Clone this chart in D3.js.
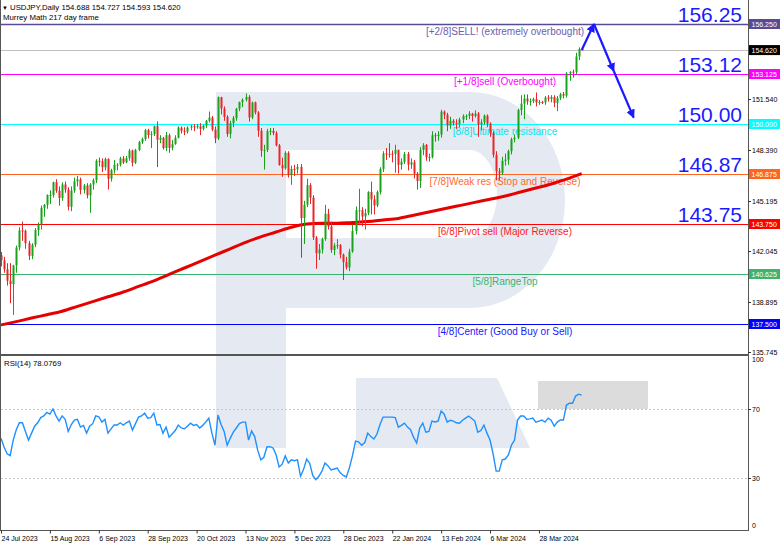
<!DOCTYPE html>
<html><head><meta charset="utf-8">
<script src="https://cdn.jsdelivr.net/npm/d3@7/dist/d3.min.js"></script>
<style>
body{margin:0;background:#fff;}
svg{display:block;font-family:"Liberation Sans",Arial,sans-serif;}
</style></head><body>
<svg id="c" width="782" height="547"></svg>
<script>
// ---------- DATA ----------
const opens=[141.80,141.48,140.92,140.20,139.99,141.16,142.28,143.35,143.33,142.55,
141.76,142.46,143.37,143.73,144.76,144.95,145.56,145.56,146.36,145.83,
145.38,146.22,145.90,144.83,145.84,146.42,146.53,145.88,146.16,145.54,
146.22,146.49,147.70,147.67,147.29,147.82,146.58,147.12,147.45,147.46,
147.85,147.60,147.86,148.34,147.58,148.38,148.87,149.06,149.62,149.31,
149.37,149.86,149.02,149.13,148.50,149.30,148.51,148.74,149.14,149.78,
149.56,149.52,149.78,149.85,149.80,149.86,149.70,149.90,150.20,150.40,
149.65,149.10,151.67,150.97,150.44,149.38,150.05,150.37,150.96,151.37,
151.51,151.69,150.41,151.35,150.72,149.58,148.34,148.38,149.55,149.57,
149.43,148.66,147.43,147.23,148.20,146.80,147.19,147.17,147.32,144.12,
144.95,146.18,145.40,142.90,141.92,142.16,142.81,144.39,143.59,142.13,
142.40,142.43,141.84,141.37,141.04,142.02,143.31,144.61,144.61,144.22,
144.44,145.75,145.29,144.91,145.75,147.19,148.16,148.14,148.13,148.12,
148.38,147.45,147.64,148.12,147.46,147.61,146.90,146.44,148.38,148.68,
147.92,147.93,149.30,149.25,149.34,150.77,150.58,149.90,150.20,150.05,
149.99,150.28,150.50,150.51,150.65,150.50,150.65,149.97,150.10,150.52,
150.02,149.42,148.07,147.05,146.95,147.70,147.77,148.30,149.04,149.14,
150.87,151.27,151.59,151.41,151.43,151.55,151.34,151.37,151.35,151.65,
151.57,151.68,151.32,151.62,151.86,151.77,153.16,153.27,153.26,154.22,
154.688];
const highs=[142.00,141.70,141.30,141.30,141.20,142.40,143.55,143.90,143.40,142.70,
142.55,143.50,143.85,144.90,145.00,145.60,145.85,146.40,146.55,146.10,
146.35,146.40,146.05,146.10,146.65,146.75,146.65,146.25,146.30,146.30,
146.60,147.80,147.90,147.85,147.90,147.85,147.20,147.75,147.55,147.95,
148.00,148.00,148.45,148.40,148.45,148.95,149.15,149.70,149.70,149.55,
149.90,150.16,149.30,149.20,149.50,149.40,149.00,149.30,149.85,149.85,
149.80,149.85,149.95,150.00,150.00,150.05,149.95,150.25,150.78,150.50,
149.85,151.72,151.70,151.10,150.55,150.20,150.50,151.00,151.40,151.60,
151.91,151.80,151.40,151.40,150.80,149.75,148.70,149.70,149.75,149.75,
149.55,148.75,147.90,148.30,148.30,147.40,147.45,147.50,147.50,145.20,
146.58,146.30,145.55,143.00,142.50,142.90,144.95,144.70,143.90,142.55,
142.80,142.50,141.90,141.70,142.20,143.70,144.85,145.95,144.80,144.70,
145.80,146.40,145.55,145.85,147.30,148.30,148.50,148.80,148.35,148.70,
148.40,147.85,148.25,148.25,147.85,147.75,147.00,148.55,148.80,148.75,
148.15,149.55,149.45,149.55,150.89,150.85,150.70,150.45,150.30,150.30,
150.40,150.60,150.60,150.80,150.70,150.85,150.75,150.30,150.60,150.60,
150.10,149.55,148.30,147.25,147.95,148.15,148.40,149.15,149.35,150.95,
151.80,151.85,151.85,151.60,151.65,151.97,151.50,151.45,151.75,151.80,
151.80,151.80,151.75,151.95,152.00,153.24,153.30,153.40,154.45,154.79,
154.727];
const lows=[141.10,140.70,139.90,138.80,138.07,140.70,142.10,142.70,142.20,141.50,
141.55,142.30,143.00,143.40,144.20,144.70,145.00,145.40,145.70,144.90,
145.20,145.70,144.60,144.55,145.70,146.10,145.60,145.65,145.35,144.45,
145.90,146.30,147.35,147.00,147.10,145.90,146.40,146.90,147.10,147.35,
147.50,147.55,147.70,147.35,147.50,148.30,148.75,148.95,149.10,148.50,
149.25,147.31,148.80,148.40,148.30,148.20,148.35,148.70,149.10,149.40,
149.30,149.40,149.60,149.55,149.70,149.30,149.60,149.75,150.10,149.55,
148.80,149.00,150.60,150.20,149.20,149.10,149.80,150.20,150.80,151.05,
151.40,150.15,150.30,150.60,149.20,147.95,147.15,148.25,149.30,149.30,
148.60,147.40,146.70,147.15,146.65,146.20,146.75,146.90,141.64,142.50,
144.80,145.00,142.75,140.95,141.50,141.90,142.70,143.40,141.95,141.80,
142.20,141.60,140.25,140.90,140.80,141.95,143.10,143.80,143.60,143.40,
144.30,144.35,144.35,144.80,145.60,147.00,147.75,147.90,147.60,146.95,
146.90,147.15,147.50,147.10,147.20,146.60,145.90,146.00,148.05,147.70,
147.65,147.85,148.90,148.95,149.15,150.30,149.55,149.70,149.90,149.70,
149.80,150.05,150.25,150.30,150.15,150.40,149.20,149.60,149.95,149.80,
149.20,147.90,146.48,146.49,146.80,147.40,147.45,148.10,148.85,149.05,
150.55,150.30,151.20,151.15,151.30,151.10,151.20,151.25,151.20,151.40,
151.35,151.05,150.80,151.50,151.60,151.65,152.70,152.90,153.10,154.00,
154.593];
const closes=[141.48,140.92,140.20,139.99,141.16,142.28,143.35,143.33,142.55,141.76,
142.46,143.37,143.73,144.76,144.95,145.56,145.56,146.36,145.83,145.38,
146.22,145.90,144.83,145.84,146.42,146.53,145.88,146.16,145.54,146.22,
146.49,147.70,147.67,147.29,147.82,146.58,147.12,147.45,147.46,147.85,
147.60,147.86,148.34,147.58,148.38,148.87,149.06,149.62,149.31,149.37,
149.86,149.02,149.13,148.50,149.30,148.51,148.74,149.14,149.78,149.56,
149.52,149.78,149.85,149.80,149.86,149.70,149.90,150.20,150.40,149.65,
149.10,151.67,150.97,150.44,149.38,150.05,150.37,150.96,151.37,151.51,
151.69,150.41,151.35,150.72,149.58,148.34,148.38,149.55,149.57,149.43,
148.66,147.43,147.23,148.20,146.80,147.19,147.17,147.32,144.12,144.95,
146.18,145.40,142.90,141.92,142.16,142.81,144.39,143.59,142.13,142.40,
142.43,141.84,141.37,141.04,142.02,143.31,144.61,144.61,144.22,144.44,
145.75,145.29,144.91,145.75,147.19,148.16,148.14,148.13,148.12,148.38,
147.45,147.64,148.12,147.46,147.61,146.90,146.44,148.38,148.68,147.92,
147.93,149.30,149.25,149.34,150.77,150.58,149.90,150.20,150.05,149.99,
150.28,150.50,150.51,150.65,150.50,150.65,149.97,150.10,150.52,150.02,
149.42,148.07,147.05,146.95,147.70,147.77,148.30,149.04,149.14,150.87,
151.27,151.59,151.41,151.43,151.55,151.34,151.37,151.35,151.65,151.57,
151.68,151.32,151.62,151.86,151.77,153.16,153.27,153.26,154.22,154.69,
154.62];
const rsi=[53,48,44,43,52,58,62,62,57,52,
56,60,62,65,66,68,67,70,66,63,
66,64,57,61,63.6,64,59.5,60.5,56,60,
61.5,66,65.5,62.4,64,56,58.5,60.7,60.7,62,
60.7,62,63,57.8,61.5,65.3,66,67.6,64.7,65,
67.6,60.7,61,56,59.5,53.7,55.5,57.5,60.7,59,
58.5,60,61.8,60.5,61,59,60.5,62.5,64.7,56,
49,66.5,61,57,49,53,56.6,59,61.5,62.4,
62.4,52,57.2,54,46,40.5,42,48,48.2,47.4,
43.5,36.4,38,42.8,38.7,40.5,40,40.5,31,35,
41,38.5,31.5,29,31,34,38.7,37,34.7,35.2,
35.8,33,31.5,30.6,36,43,51.4,51,49,50.5,
56,54,52.6,55.5,61,65.3,65.3,65.3,65.3,65,
59.5,60.5,61.8,59.5,58,53.5,50.3,59,61.8,56.6,
57,63,62.5,63,68.8,67,62.4,63.5,63,62,
61.8,63.5,64.7,65.9,64.5,63,56.6,57.5,60.7,56,
52,44,34,34,40.5,41,43.4,49,52,63.6,
65.9,65.9,64,64.3,64.7,62.4,63,63.6,62.4,64.7,
63.5,60,62.4,63.6,63.6,72.3,73.4,73.3,77.5,78.6,
78.08];
// moving average (read every 5th bar)
const maIdx=[0,5,10,15,20,25,30,35,40,45,50,55,60,65,70,75,80,85,90,95,100,105,110,115,120,125,130,135,140,145,150,155,160,165,170,175,180,185,190];
const maVals=[137.44,137.65,137.87,138.08,138.3,138.6,138.9,139.2,139.5,139.85,140.2,140.6,141.0,141.4,141.8,142.2,142.6,142.95,143.25,143.55,143.75,143.8,143.8,143.85,143.9,144.0,144.1,144.3,144.5,144.7,144.9,145.1,145.3,145.5,145.75,146.0,146.25,146.55,146.9];
// Murrey levels
const levelPrices=[156.25,153.125,150.0,146.875,143.75,140.625,137.5];
const levelNames=["[+2/8]SELL! (extremely overbought)","[+1/8]sell (Overbought)","[8/8]Ultimate resistance","[7/8]Weak res (Stop and Reverse)","[6/8]Pivot sell (Major Reverse)","[5/8]RangeTop","[4/8]Center (Good Buy or Sell)"];
const levelColors=["#574b96","#ff00ff","#00ffff","#ff6420","#ff0000","#3cb371","#0000ff"];
const levelTextColors=["#6a60b0","#ff00ff","#00e5ee","#ff6a30","#ff1a1a","#3cb371","#1a1aff"];
const bigPrices=[156.25,153.125,150.0,146.875,143.75];
const bigLabels=["156.25","153.12","150.00","146.87","143.75"];
const priceTicks=[151.540,148.390,145.195,142.045,138.895,135.745];
const lastPrice=154.62;
const rsiTicks=[100,70,30,0];
const xTickIdx=[0,16,32,48,64,80,96,112,128,144,160,176];
const xTickLabels=["24 Jul 2023","15 Aug 2023","6 Sep 2023","28 Sep 2023","20 Oct 2023","13 Nov 2023","5 Dec 2023","28 Dec 2023","22 Jan 2024","13 Feb 2024","6 Mar 2024","28 Mar 2024"];
const arrowIdx=[190,194,200.5,207];
const arrowPrice=[154.62,156.25,153.3,150.4];

// ---------- CHART ----------
const svg=d3.select('#c');
const x=d3.scaleLinear().domain([0,244.4]).range([1,748]);
const y=d3.scaleLinear().domain([137.5,156.25]).range([324,24]);
const yR=d3.scaleLinear().domain([0,100]).range([529.75,357.25]);

// watermark logo
const wm=svg.append('g').attr('fill','#e4e9f2');
wm.append('rect').attr('x',216).attr('y',92).attr('width',70).attr('height',356);
wm.append('path').attr('fill-rule','evenodd')
  .attr('d','M216,92 H470 A95,108 0 0 1 470,308 H216 Z M286,150 H470 A27,44 0 0 1 470,238 H286 Z');
wm.append('path').attr('d','M356,378 H497 L530,448 H356 Z');
svg.append('rect').attr('x',538).attr('y',381).attr('width',110).attr('height',28).attr('fill','#dcdcdc');

// clip
svg.append('clipPath').attr('id','mc').append('rect').attr('x',1).attr('y',0).attr('width',747).attr('height',354);
const main=svg.append('g').attr('clip-path','url(#mc)');

// current price line
main.append('line').attr('x1',0).attr('x2',748).attr('y1',Math.round(y(lastPrice))+0.5).attr('y2',Math.round(y(lastPrice))+0.5)
  .attr('stroke','#c0c0c0').attr('stroke-width',1);

// level lines
levelPrices.forEach((p,i)=>{
  const yy=Math.round(y(p))+0.5;
  main.append('line').attr('x1',0).attr('x2',748).attr('y1',yy).attr('y2',yy)
    .attr('stroke',levelColors[i]).attr('stroke-width',i===0?1.5:1.2);
  main.append('text').attr('x',505).attr('y',yy+10.5).attr('text-anchor','middle')
    .attr('font-size',10).attr('fill',levelTextColors[i]).text(levelNames[i]);
});
bigPrices.forEach((p,i)=>{
  main.append('text').attr('x',742).attr('y',y(p)-2).attr('text-anchor','end')
    .attr('font-size',21).attr('fill','#1a1aff').text(bigLabels[i]);
});

// moving average
const maLine=d3.line().x((d,i)=>x(maIdx[i])).y(d=>y(d)).curve(d3.curveMonotoneX);
main.append('path').attr('d',maLine(maVals)).attr('fill','none').attr('stroke','#e60000').attr('stroke-width',3);

// candles
const up='#1aa31a', dn='#e8262a';
closes.forEach((c,i)=>{
  const o=opens[i], h=highs[i], l=lows[i];
  const col=c>=o?up:dn;
  const px=Math.round(x(i));
  main.append('line').attr('x1',px+0.5).attr('x2',px+0.5).attr('y1',y(h)).attr('y2',y(l))
    .attr('stroke',col).attr('stroke-width',1);
  const t=y(Math.max(o,c)), b=y(Math.min(o,c));
  main.append('rect').attr('x',px-0.5).attr('y',t).attr('width',2).attr('height',Math.max(1,b-t)).attr('fill',col);
});

// arrows
const defs=svg.append('defs');
defs.append('marker').attr('id','ah').attr('viewBox','0 0 10 10').attr('refX',9).attr('refY',5)
  .attr('markerWidth',4).attr('markerHeight',4).attr('orient','auto')
  .append('path').attr('d','M0,0 L10,5 L0,10 Z').attr('fill','#1a1aff');
for(let k=0;k<arrowIdx.length-1;k++){
  main.append('line').attr('x1',x(arrowIdx[k])).attr('y1',y(arrowPrice[k]))
    .attr('x2',x(arrowIdx[k+1])).attr('y2',y(arrowPrice[k+1]))
    .attr('stroke','#1a1aff').attr('stroke-width',2.2).attr('marker-end','url(#ah)');
}

// RSI panel
[70,30].forEach(v=>{
  svg.append('line').attr('x1',1).attr('x2',748).attr('y1',Math.round(yR(v))+0.5).attr('y2',Math.round(yR(v))+0.5)
    .attr('stroke','#c8c8c8').attr('stroke-dasharray','2,2');
});
const rl=d3.line().x((d,i)=>x(i)).y(d=>yR(d));
svg.append('path').attr('d',rl(rsi)).attr('fill','none').attr('stroke','#1e90ff').attr('stroke-width',1.4);

// frame
svg.append('line').attr('x1',0.5).attr('x2',0.5).attr('y1',0).attr('y2',531).attr('stroke','#555');
svg.append('line').attr('x1',748.5).attr('x2',748.5).attr('y1',0).attr('y2',531).attr('stroke','#555');
svg.append('rect').attr('x',0).attr('y',354).attr('width',749).attr('height',2).attr('fill','#555');
svg.append('line').attr('x1',0).attr('x2',749).attr('y1',530.5).attr('y2',530.5).attr('stroke','#555');

// right price axis
const ra=svg.append('g').attr('font-size',7).attr('fill','#000');
priceTicks.forEach(p=>{
  const yy=Math.round(y(p))+0.5;
  ra.append('line').attr('x1',748).attr('x2',751).attr('y1',yy).attr('y2',yy).attr('stroke','#333');
  ra.append('text').attr('x',752).attr('y',yy+2.5).text(p.toFixed(3));
});
levelPrices.concat([lastPrice]).forEach((p,i)=>{
  const yy=y(p);
  const col=i<levelColors.length?levelColors[i]:'#000';
  ra.append('rect').attr('x',749).attr('y',yy-5).attr('width',31).attr('height',10).attr('fill',col);
  ra.append('text').attr('x',751.5).attr('y',yy+2.5).attr('fill','#fff').text(p.toFixed(3));
});
// RSI axis
rsiTicks.forEach(v=>{
  const yy=yR(v);
  let ty=yy+2.5; if(v===100) ty=yy+5; if(v===0) ty=yy-2;
  if(v===70||v===30) ra.append('line').attr('x1',748).attr('x2',751).attr('y1',Math.round(yy)+0.5).attr('y2',Math.round(yy)+0.5).attr('stroke','#333');
  ra.append('text').attr('x',752).attr('y',ty).text(v);
});

// x axis
const xa=svg.append('g').attr('transform','translate(0,530.5)')
  .call(d3.axisBottom(x).tickValues(xTickIdx).tickFormat((d,i)=>xTickLabels[i]).tickSize(3));
xa.select('.domain').remove();
xa.selectAll('line').attr('stroke','#333');
xa.selectAll('text').attr('text-anchor','start').attr('x',0).attr('font-size',7).attr('fill','#000')
  .attr('font-family','"Liberation Sans",Arial,sans-serif');

// header
svg.append('text').attr('x',2).attr('y',9.5).attr('font-size',6).attr('fill','#000').text('▼');
svg.append('text').attr('x',10).attr('y',10).attr('font-size',7.8).attr('fill','#000')
  .text('USDJPY,Daily  154.688 154.727 154.593 154.620');
svg.append('text').attr('x',3).attr('y',19.5).attr('font-size',7.8).attr('fill','#000').text('Murrey Math 217 day frame');
svg.append('text').attr('x',4).attr('y',366).attr('font-size',7.8).attr('fill','#000').text('RSI(14) 78.0769');
</script>
</body></html>
